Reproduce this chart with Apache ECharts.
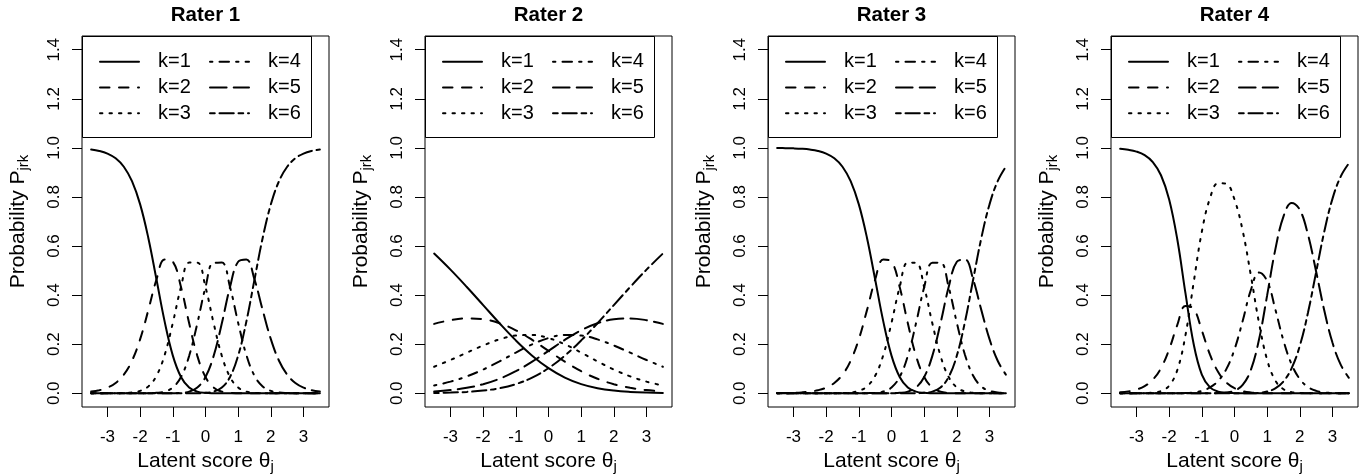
<!DOCTYPE html>
<html>
<head>
<meta charset="utf-8">
<script src="https://cdn.jsdelivr.net/npm/echarts@6/dist/echarts.min.js"></script>
<style>
  html, body { margin: 0; padding: 0; background: #fff; }
  #chart { width: 1360px; height: 474px; }
</style>
</head>
<body>
<div id="chart"></div>
<script>
// titles / categories
const raters = ['Rater 1', 'Rater 2', 'Rater 3', 'Rater 4'];
const categories = ['k=1', 'k=2', 'k=3', 'k=4', 'k=5', 'k=6'];
const xTicks = [-3, -2, -1, 0, 1, 2, 3];
const yTicks = [0, 0.2, 0.4, 0.6, 0.8, 1.0, 1.2, 1.4];

// latent score grid (read at these points)
const thetaFine = [-3.5, -3.25, -3, -2.75, -2.5, -2.25, -2, -1.75, -1.5, -1.25, -1, -0.75, -0.5, -0.25, 0,
  0.25, 0.5, 0.75, 1, 1.25, 1.5, 1.75, 2, 2.25, 2.5, 2.75, 3, 3.25, 3.5];
const thetaCoarse = [-3.5, -3, -2.5, -2, -1.5, -1, -0.5, 0, 0.5, 1, 1.5, 2, 2.5, 3, 3.5];

// Rater 1
const r1k1 = [0.9933, 0.9876, 0.9769, 0.9576, 0.9233, 0.8643, 0.7697, 0.6330, 0.4636, 0.2918, 0.1535, 0.0664, 0.0234, 0.0067, 0.0016, 0.0003, 0, 0, 0, 0, 0, 0, 0, 0, 0, 0, 0, 0, 0];
const r1k2 = [0.0067, 0.0124, 0.0230, 0.0421, 0.0758, 0.1326, 0.2205, 0.3388, 0.4636, 0.5451, 0.5358, 0.4328, 0.2850, 0.1525, 0.0663, 0.0234, 0.0067, 0.0016, 0.0003, 0, 0, 0, 0, 0, 0, 0, 0, 0, 0];
const r1k3 = [0, 0, 0.0001, 0.0003, 0.0010, 0.0031, 0.0097, 0.0278, 0.0711, 0.1562, 0.2868, 0.4328, 0.5324, 0.5322, 0.4322, 0.2849, 0.1525, 0.0664, 0.0235, 0.0069, 0.0017, 0.0004, 0.0001, 0, 0, 0, 0, 0, 0];
const r1k4 = [0, 0, 0, 0, 0, 0, 0.0001, 0.0004, 0.0017, 0.0069, 0.0235, 0.0664, 0.1525, 0.2849, 0.4322, 0.5322, 0.5324, 0.4328, 0.2868, 0.1562, 0.0711, 0.0278, 0.0097, 0.0031, 0.0010, 0.0003, 0.0001, 0, 0];
const r1k5 = [0, 0, 0, 0, 0, 0, 0, 0, 0, 0, 0.0003, 0.0016, 0.0067, 0.0234, 0.0663, 0.1525, 0.2850, 0.4328, 0.5358, 0.5451, 0.4636, 0.3388, 0.2205, 0.1326, 0.0758, 0.0421, 0.0230, 0.0124, 0.0067];
const r1k6 = [0, 0, 0, 0, 0, 0, 0, 0, 0, 0, 0, 0, 0, 0.0003, 0.0016, 0.0067, 0.0234, 0.0664, 0.1535, 0.2918, 0.4636, 0.6330, 0.7697, 0.8643, 0.9233, 0.9576, 0.9769, 0.9876, 0.9933];

// Rater 2 (flat curves, coarser grid)
const r2k1 = [0.5693, 0.5037, 0.4330, 0.3593, 0.2854, 0.2154, 0.1533, 0.1023, 0.0639, 0.0374, 0.0207, 0.0109, 0.0055, 0.0026, 0.0012];
const r2k2 = [0.2827, 0.2979, 0.3051, 0.3016, 0.2854, 0.2566, 0.2175, 0.1729, 0.1287, 0.0898, 0.0591, 0.0369, 0.0221, 0.0128, 0.0072];
const r2k3 = [0.1080, 0.1356, 0.1654, 0.1947, 0.2195, 0.2351, 0.2374, 0.2248, 0.1993, 0.1657, 0.1299, 0.0967, 0.0689, 0.0474, 0.0317];
const r2k4 = [0.0317, 0.0474, 0.0689, 0.0967, 0.1299, 0.1657, 0.1993, 0.2248, 0.2374, 0.2351, 0.2195, 0.1947, 0.1654, 0.1356, 0.1080];
const r2k5 = [0.0072, 0.0128, 0.0221, 0.0369, 0.0591, 0.0898, 0.1287, 0.1729, 0.2175, 0.2566, 0.2854, 0.3016, 0.3051, 0.2979, 0.2827];
const r2k6 = [0.0012, 0.0026, 0.0055, 0.0109, 0.0207, 0.0374, 0.0639, 0.1023, 0.1533, 0.2154, 0.2854, 0.3593, 0.4330, 0.5037, 0.5693];

// Rater 3
const r3k1 = [0.9994, 0.9990, 0.9981, 0.9964, 0.9933, 0.9876, 0.9769, 0.9576, 0.9233, 0.8643, 0.7697, 0.6330, 0.4636, 0.2918, 0.1535, 0.0664, 0.0234, 0.0067, 0.0016, 0.0003, 0, 0, 0, 0, 0, 0, 0, 0, 0];
const r3k2 = [0.0006, 0.0010, 0.0019, 0.0036, 0.0067, 0.0124, 0.0230, 0.0421, 0.0758, 0.1326, 0.2205, 0.3388, 0.4636, 0.5451, 0.5358, 0.4328, 0.2850, 0.1525, 0.0663, 0.0234, 0.0067, 0.0016, 0.0003, 0, 0, 0, 0, 0, 0];
const r3k3 = [0, 0, 0, 0, 0, 0, 0.0001, 0.0003, 0.0010, 0.0031, 0.0097, 0.0278, 0.0711, 0.1562, 0.2868, 0.4328, 0.5324, 0.5322, 0.4322, 0.2849, 0.1525, 0.0664, 0.0235, 0.0069, 0.0017, 0.0004, 0.0001, 0, 0];
const r3k4 = [0, 0, 0, 0, 0, 0, 0, 0, 0, 0, 0.0001, 0.0004, 0.0017, 0.0069, 0.0235, 0.0664, 0.1525, 0.2849, 0.4322, 0.5322, 0.5324, 0.4328, 0.2868, 0.1562, 0.0711, 0.0278, 0.0097, 0.0031, 0.0010];
const r3k5 = [0, 0, 0, 0, 0, 0, 0, 0, 0, 0, 0, 0, 0, 0, 0.0003, 0.0016, 0.0067, 0.0234, 0.0663, 0.1525, 0.2850, 0.4328, 0.5358, 0.5451, 0.4636, 0.3388, 0.2205, 0.1326, 0.0758];
const r3k6 = [0, 0, 0, 0, 0, 0, 0, 0, 0, 0, 0, 0, 0, 0, 0, 0, 0, 0.0003, 0.0016, 0.0067, 0.0234, 0.0664, 0.1535, 0.2918, 0.4636, 0.6330, 0.7697, 0.8643, 0.9233];

// Rater 4
const r4k1 = [0.9961, 0.9923, 0.9848, 0.9703, 0.9422, 0.8885, 0.7901, 0.6265, 0.4067, 0.2008, 0.0759, 0.0238, 0.0066, 0.0017, 0.0004, 0.0001, 0, 0, 0, 0, 0, 0, 0, 0, 0, 0, 0, 0, 0];
const r4k2 = [0.0039, 0.0077, 0.0150, 0.0290, 0.0553, 0.1025, 0.1790, 0.2787, 0.3554, 0.3445, 0.2558, 0.1573, 0.0863, 0.0438, 0.0206, 0.0088, 0.0033, 0.0010, 0.0002, 0.0001, 0, 0, 0, 0, 0, 0, 0, 0, 0];
const r4k3 = [0, 0, 0.0002, 0.0007, 0.0025, 0.0090, 0.0309, 0.0946, 0.2370, 0.4513, 0.6582, 0.7950, 0.8561, 0.8532, 0.7896, 0.6624, 0.4809, 0.2866, 0.1357, 0.0516, 0.0165, 0.0046, 0.0011, 0.0003, 0, 0, 0, 0, 0];
const r4k4 = [0, 0, 0, 0, 0, 0, 0, 0.0002, 0.0009, 0.0035, 0.0100, 0.0238, 0.0503, 0.0984, 0.1789, 0.2947, 0.4202, 0.4918, 0.4574, 0.3418, 0.2140, 0.1172, 0.0575, 0.0253, 0.0099, 0.0034, 0.0011, 0.0003, 0.0001];
const r4k5 = [0, 0, 0, 0, 0, 0, 0, 0, 0, 0, 0, 0.0002, 0.0008, 0.0029, 0.0105, 0.0340, 0.0952, 0.2188, 0.3997, 0.5865, 0.7211, 0.7758, 0.7476, 0.6457, 0.4950, 0.3362, 0.2057, 0.1166, 0.0630];
const r4k6 = [0, 0, 0, 0, 0, 0, 0, 0, 0, 0, 0, 0, 0, 0, 0, 0.0001, 0.0004, 0.0019, 0.0070, 0.0201, 0.0485, 0.1024, 0.1938, 0.3288, 0.4950, 0.6604, 0.7933, 0.8831, 0.9370];

const panels = [
  { x: thetaFine, curves: [r1k1, r1k2, r1k3, r1k4, r1k5, r1k6] },
  { x: thetaCoarse, curves: [r2k1, r2k2, r2k3, r2k4, r2k5, r2k6] },
  { x: thetaFine, curves: [r3k1, r3k2, r3k3, r3k4, r3k5, r3k6] },
  { x: thetaFine, curves: [r4k1, r4k2, r4k3, r4k4, r4k5, r4k6] }
];

// R lty 1..6 at lwd 2
const dashes = ['solid', [9.5, 9.5], [2.4, 7.1], [2.4, 7.1, 9.5, 7.1], [16.6, 7.1], [4.75, 4.75, 14.25, 4.75]];

const FONT = '"Liberation Sans", Arial, Helvetica, sans-serif';
const gridLeft = [82, 425, 768, 1111];
const gridTop = 36;
const gridW = 247;
const gridH = 371;

const chart = echarts.init(document.getElementById('chart'), null, { renderer: 'canvas' });

const grids = [], xAxes = [], yAxes = [], series = [], legends = [], titles = [], graphics = [];

gridLeft.forEach((gl, p) => {
  grids.push({
    left: gl, top: gridTop, width: gridW, height: gridH,
    show: true, borderColor: '#000', borderWidth: 1, backgroundColor: 'transparent',
    containLabel: false, outerBoundsMode: 'none'
  });
  xAxes.push({
    gridIndex: p, type: 'value', min: -3.78, max: 3.78,
    axisLine: { show: false, onZero: false },
    splitLine: { show: false },
    axisTick: { show: true, inside: false, length: 10, customValues: xTicks, lineStyle: { color: '#000', width: 1 } },
    axisLabel: { customValues: xTicks, fontSize: 17, margin: 22, color: '#000', fontFamily: FONT },
    name: '{a|Latent score θ}{b|j}',
    nameLocation: 'middle', nameGap: 35,
    nameTextStyle: {
      color: '#000', fontFamily: FONT,
      rich: {
        a: { fontSize: 21, lineHeight: 26, fontFamily: FONT, color: '#000' },
        b: { fontSize: 15, lineHeight: 12, verticalAlign: 'bottom', fontFamily: FONT, color: '#000' }
      }
    }
  });
  yAxes.push({
    gridIndex: p, type: 'value', min: -0.056, max: 1.456,
    axisLine: { show: false, onZero: false },
    splitLine: { show: false },
    axisTick: { show: true, inside: false, length: 10, customValues: yTicks, lineStyle: { color: '#000', width: 1 } },
    axisLabel: {
      customValues: yTicks, rotate: 90, fontSize: 17, margin: 19, color: '#000', fontFamily: FONT,
      formatter: v => v.toFixed(1)
    },
    name: '{a|Probability P}{b|jrk}',
    nameLocation: 'middle', nameGap: 51, nameRotate: 90,
    nameTextStyle: {
      color: '#000', fontFamily: FONT,
      rich: {
        a: { fontSize: 21, lineHeight: 26, fontFamily: FONT, color: '#000' },
        b: { fontSize: 15, lineHeight: 12, verticalAlign: 'bottom', fontFamily: FONT, color: '#000' }
      }
    }
  });
  titles.push({
    text: raters[p], left: gl + gridW / 2, top: 5, textAlign: 'center', padding: 0,
    textStyle: { fontSize: 20.5, fontWeight: 'bold', color: '#000', fontFamily: FONT }
  });
  [categories.slice(0, 3), categories.slice(3)].forEach((names, c) => {
    legends.push({
      data: names, orient: 'vertical', left: gl + (c === 0 ? 17 : 127), top: 51.7,
      itemWidth: 39, itemHeight: 20, itemGap: 5.8, padding: 0, selectedMode: false,
      itemStyle: { opacity: 0 },
      formatter: name => '{g| }' + name,
      textStyle: {
        fontSize: 20, color: '#000', fontFamily: FONT,
        rich: { g: { width: 14, fontSize: 20 } }
      }
    });
  });
  // legend frame
  graphics.push({
    type: 'rect', silent: true,
    shape: { x: gl + 0.5, y: gridTop + 0.5, width: 229, height: 101 },
    style: { fill: 'none', stroke: '#000', lineWidth: 1 }
  });
  const pan = panels[p];
  pan.curves.forEach((vals, k) => {
    series.push({
      type: 'line', name: categories[k], xAxisIndex: p, yAxisIndex: p,
      data: pan.x.map((t, i) => [t, vals[i]]),
      symbol: 'none', smooth: 0.4, silent: true,
      itemStyle: { color: '#000' },
      lineStyle: { color: '#000', width: 2, type: dashes[k], cap: 'round' }
    });
  });
});

chart.setOption({
  animation: false,
  backgroundColor: '#fff',
  title: titles,
  legend: legends,
  grid: grids,
  xAxis: xAxes,
  yAxis: yAxes,
  graphic: graphics,
  series: series
});
</script>
</body>
</html>
